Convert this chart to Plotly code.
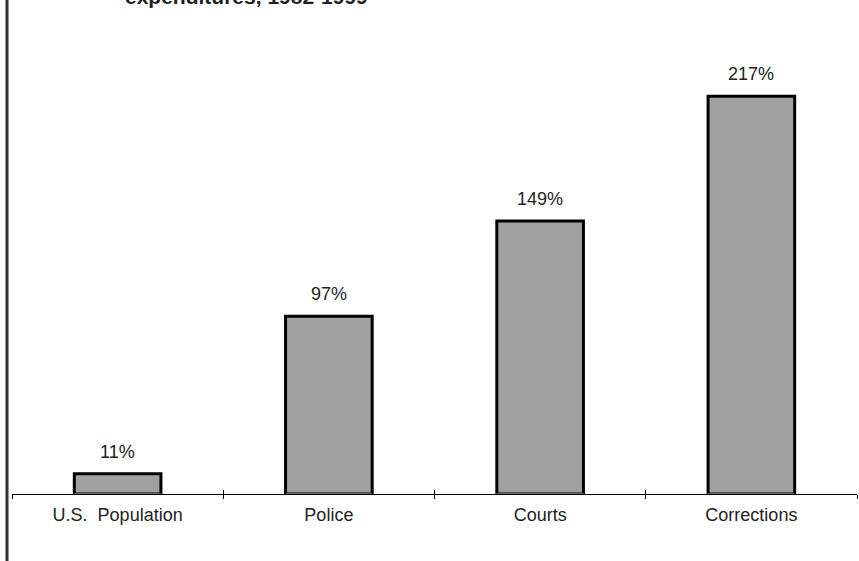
import plotly.graph_objects as go

categories = ["U.S.&nbsp; Population", "Police", "Courts", "Corrections"]
values = [11, 97, 149, 217]
labels = [f"{v}%" for v in values]
title_line = "expenditures, 1982-1999"

FONT = "Liberation Sans, Arial, sans-serif"
W, H = 859, 561
ml, mr, mt, mb = 12, 2, 20, 67
pw, ph = W - ml - mr, H - mt - mb

fig = go.Figure()
fig.add_trace(go.Bar(
    x=categories, y=values,
    marker=dict(color="#a0a0a0", line=dict(color="#000000", width=3)),
    hoverinfo="skip",
))
fig.add_trace(go.Bar(x=categories, y=[0]*len(categories), xaxis="x2", yaxis="y",
                     marker=dict(color="rgba(0,0,0,0)"), hoverinfo="skip", showlegend=False))

for c, v, t in zip(categories, values, labels):
    fig.add_annotation(x=c, y=v, text=t, showarrow=False, yanchor="bottom",
                       yshift=10, font=dict(family=FONT, size=18, color="#222222"))

fig.add_annotation(xref="paper", yref="paper", x=(247 - ml) / pw, y=1 + (mt - 10) / ph,
                   xanchor="center", yanchor="bottom", text="<b>" + title_line + "</b>",
                   showarrow=False, font=dict(family=FONT, size=21, color="#222222"))

fig.add_shape(type="line", xref="paper", yref="paper",
              x0=(7 - ml) / pw, x1=(7 - ml) / pw, y0=-mb / ph - 0.01, y1=1 + mt / ph + 0.01,
              line=dict(color="#333333", width=3))

fig.update_layout(
    width=W, height=H,
    margin=dict(l=ml, r=mr, t=mt, b=mb),
    paper_bgcolor="white", plot_bgcolor="white",
    showlegend=False, bargap=0.59,
    font=dict(family=FONT, size=18, color="#222222"),
    xaxis=dict(type="category", range=[-0.5, 3.5], showline=True, linecolor="#000000", linewidth=1,
               ticks="outside", tickson="boundaries", ticklen=4, tickcolor="#000000", tickwidth=1,
               ticklabelstandoff=4,
               showgrid=False, zeroline=False, tickfont=dict(family=FONT, size=18, color="#222222")),
    xaxis2=dict(type="category", overlaying="x", range=[-0.5, 3.5], side="bottom",
                anchor="y", ticks="inside", tickson="boundaries", ticklen=4, tickcolor="#000000",
                tickwidth=1, showticklabels=False, showgrid=False, zeroline=False, showline=False),
    yaxis=dict(range=[0, ph / 1.833], visible=False, fixedrange=True),
)

fig.write_html("out.html")
